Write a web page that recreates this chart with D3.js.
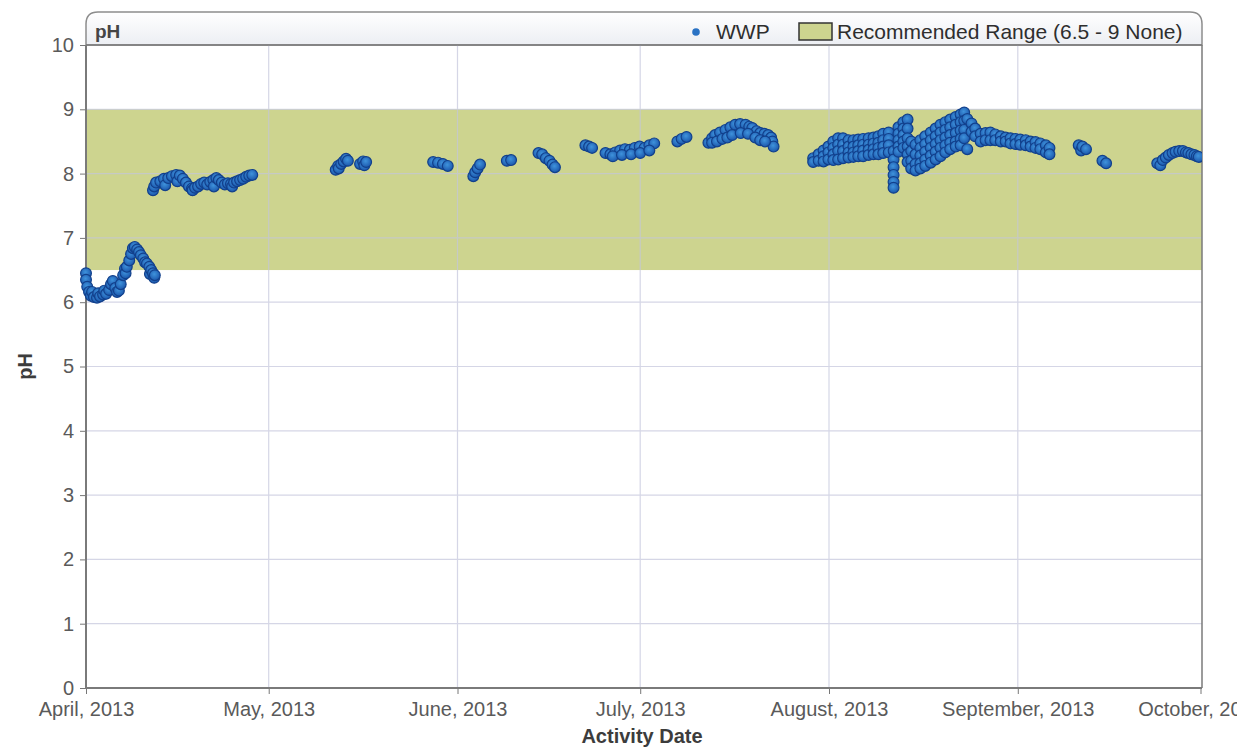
<!DOCTYPE html>
<html>
<head>
<meta charset="utf-8">
<script src="https://cdn.jsdelivr.net/npm/d3@7"></script>
<style>
  body { margin: 0; background: #fff; }
  svg { display: block; font-family: "Liberation Sans", Arial, sans-serif; }
</style>
</head>
<body>
<div id="chart"></div>
<script>
// readings as [days after 1 April 2013, pH], one array per logger deployment
const aprilRunA = [
  [0, 6.45], [0, 6.35], [0.2, 6.24], [0.5, 6.16], [0.8, 6.1], [1.0, 6.16], [1.3, 6.08], [1.8, 6.07],
  [2.0, 6.14], [2.3, 6.09], [2.8, 6.12], [3.0, 6.18], [3.3, 6.13], [3.8, 6.19], [4.1, 6.28], [4.4, 6.33],
  [4.8, 6.22], [5.1, 6.16], [5.4, 6.18], [5.7, 6.28], [6.1, 6.42], [6.4, 6.52], [6.5, 6.45], [6.7, 6.55],
  [7.1, 6.65], [7.4, 6.75], [7.7, 6.84], [8.0, 6.86], [8.4, 6.82], [8.7, 6.78], [9.0, 6.73], [9.4, 6.68],
  [9.7, 6.62], [10.0, 6.6], [10.4, 6.55], [10.5, 6.44], [10.7, 6.5], [11.0, 6.45], [11.2, 6.38], [11.3, 6.42]
]
const aprilRunB = [
  [11.0, 7.74], [11.2, 7.8], [11.5, 7.86], [12.2, 7.88], [12.8, 7.92], [13.0, 7.82], [13.5, 7.93], [14.1, 7.96],
  [14.8, 7.98], [15.0, 7.88], [15.4, 7.97], [15.9, 7.92], [16.4, 7.86], [16.9, 7.8], [17.4, 7.77], [17.5, 7.74],
  [17.9, 7.78], [18.4, 7.8], [18.9, 7.84], [19.4, 7.86], [19.9, 7.83], [20.4, 7.87], [20.9, 7.9], [21.0, 7.8],
  [21.4, 7.93], [21.8, 7.9], [22.3, 7.86], [22.8, 7.83], [23.3, 7.85], [23.8, 7.84], [24.0, 7.8], [24.3, 7.86],
  [24.8, 7.88], [25.3, 7.9], [25.8, 7.92], [26.3, 7.95], [26.8, 7.97], [27.3, 7.98]
]
const mayRun = [
  [41.0, 8.06], [41.4, 8.12], [41.5, 8.08], [41.9, 8.15], [42.3, 8.19], [42.7, 8.23], [43.0, 8.2],
  [45.0, 8.15], [45.5, 8.19], [45.7, 8.13], [46.0, 8.18]
]
const juneRun = [
  [57.0, 8.18], [57.8, 8.17], [58.6, 8.15], [59.4, 8.12],
  [63.6, 7.96], [63.9, 8.02], [64.3, 8.08], [64.7, 8.14],
  [69.1, 8.2], [69.8, 8.21],
  [74.3, 8.32], [74.9, 8.3], [75.5, 8.24], [76.1, 8.2], [76.6, 8.14], [77.0, 8.1],
  [82.0, 8.44], [82.6, 8.42], [83.1, 8.4]
]
const julyRun = [
  [85.3, 8.32], [86.1, 8.3], [86.9, 8.33], [87.7, 8.36], [88.5, 8.38], [89.3, 8.37], [90.1, 8.4], [90.9, 8.42],
  [91.7, 8.4], [92.5, 8.44], [93.3, 8.47], [86.5, 8.27], [88.0, 8.29], [89.5, 8.3], [91.0, 8.32], [92.5, 8.36],
  [97.1, 8.5], [97.8, 8.54], [98.6, 8.57],
  [102.2, 8.48], [102.8, 8.55], [103.3, 8.6], [104.1, 8.64], [105.0, 8.68], [105.8, 8.72], [106.6, 8.76],
  [107.4, 8.77], [108.3, 8.76], [108.9, 8.73], [109.4, 8.71], [110.1, 8.66], [110.7, 8.63], [111.4, 8.62],
  [112.0, 8.6], [112.5, 8.56], [112.7, 8.5], [112.9, 8.42], [102.8, 8.48], [103.6, 8.5], [104.5, 8.54],
  [105.3, 8.56], [106.1, 8.6], [107.5, 8.63], [108.7, 8.62], [109.9, 8.56], [110.7, 8.52], [111.5, 8.5]
]
const augustRun = [
  [119.4, 8.24], [119.4, 8.18], [120.3, 8.3], [120.3, 8.2],
  [121.1, 8.36], [121.1, 8.27], [121.1, 8.19], [121.9, 8.42], [121.9, 8.33], [121.9, 8.22],
  [122.7, 8.5], [122.7, 8.4], [122.7, 8.3], [122.7, 8.21], [123.5, 8.55], [123.5, 8.45], [123.5, 8.35], [123.5, 8.22],
  [124.3, 8.55], [124.3, 8.45], [124.3, 8.35], [124.3, 8.24], [125.2, 8.52], [125.2, 8.42], [125.2, 8.33], [125.2, 8.25],
  [126.0, 8.52], [126.0, 8.42], [126.0, 8.33], [126.0, 8.26], [126.8, 8.53], [126.8, 8.44], [126.8, 8.35], [126.8, 8.27],
  [127.6, 8.54], [127.6, 8.45], [127.6, 8.36], [127.6, 8.27], [128.5, 8.55], [128.5, 8.45], [128.5, 8.37], [128.5, 8.29],
  [129.3, 8.56], [129.3, 8.47], [129.3, 8.38], [129.3, 8.3], [130.1, 8.58], [130.1, 8.48], [130.1, 8.4], [130.1, 8.3],
  [130.9, 8.62], [130.9, 8.52], [130.9, 8.42], [130.9, 8.32], [131.8, 8.64], [131.8, 8.54], [131.8, 8.44], [131.8, 8.33],
  [132.6, 8.35], [132.6, 8.22], [132.6, 8.1], [132.6, 7.98], [132.6, 7.87], [132.6, 7.78],
  [133.4, 8.72], [133.4, 8.62], [133.4, 8.52], [133.4, 8.42], [133.4, 8.34],
  [134.2, 8.8], [134.2, 8.7], [134.2, 8.6], [134.2, 8.5], [134.2, 8.4],
  [134.9, 8.84], [134.9, 8.7], [134.9, 8.55], [134.9, 8.42], [134.9, 8.3], [134.9, 8.18],
  [135.5, 8.5], [135.5, 8.35], [135.5, 8.2], [135.5, 8.08]
]
const septemberRun = [
  [136.2, 8.45], [136.2, 8.3], [136.2, 8.15], [136.2, 8.05],
  [137.0, 8.52], [137.0, 8.4], [137.0, 8.28], [137.0, 8.16], [137.0, 8.08],
  [137.8, 8.58], [137.8, 8.46], [137.8, 8.34], [137.8, 8.22], [137.8, 8.12],
  [138.7, 8.64], [138.7, 8.52], [138.7, 8.4], [138.7, 8.28], [138.7, 8.17],
  [139.5, 8.7], [139.5, 8.58], [139.5, 8.46], [139.5, 8.34], [139.5, 8.22],
  [140.3, 8.76], [140.3, 8.64], [140.3, 8.52], [140.3, 8.4], [140.3, 8.27],
  [141.1, 8.8], [141.1, 8.68], [141.1, 8.56], [141.1, 8.44], [141.1, 8.33],
  [141.9, 8.84], [141.9, 8.72], [141.9, 8.6], [141.9, 8.48], [141.9, 8.38],
  [142.8, 8.88], [142.8, 8.76], [142.8, 8.63], [142.8, 8.5], [142.8, 8.42],
  [143.6, 8.92], [143.6, 8.8], [143.6, 8.67], [143.6, 8.54], [143.6, 8.44],
  [144.2, 8.95], [144.2, 8.82], [144.2, 8.68], [144.2, 8.55],
  [144.7, 8.85], [144.7, 8.38], [145.4, 8.78], [145.4, 8.65],
  [146.0, 8.7], [146.0, 8.58], [146.9, 8.62], [146.9, 8.5], [147.7, 8.63], [147.7, 8.52],
  [148.5, 8.64], [148.5, 8.52], [149.3, 8.61], [149.3, 8.52], [150.2, 8.58], [150.2, 8.5],
  [151.0, 8.56], [151.0, 8.5], [151.8, 8.55], [151.8, 8.47], [152.6, 8.54], [152.6, 8.46],
  [153.4, 8.53], [153.4, 8.45], [154.3, 8.52], [154.3, 8.44], [155.1, 8.5], [155.1, 8.42],
  [155.9, 8.49], [155.9, 8.4], [156.7, 8.47], [156.7, 8.38], [157.6, 8.44], [157.6, 8.33],
  [158.2, 8.4], [158.2, 8.3]
]
const lateSeptemberRun = [
  [163.0, 8.44], [163.4, 8.36], [163.6, 8.42], [164.2, 8.38], [166.9, 8.2], [167.5, 8.16]
]
const octoberRun = [
  [175.9, 8.16], [176.4, 8.13], [176.8, 8.21], [177.3, 8.25], [177.8, 8.29], [178.4, 8.32], [178.9, 8.34],
  [179.5, 8.35], [180.1, 8.35], [180.6, 8.33], [181.0, 8.32], [181.5, 8.3], [182.0, 8.29], [182.4, 8.27], [182.7, 8.26]
]

const monthTicks = ["2013-04-01", "2013-05-01", "2013-06-01", "2013-07-01", "2013-08-01", "2013-09-01", "2013-10-01"]
const phTicks = [0, 1, 2, 3, 4, 5, 6, 7, 8, 9, 10]
const recommendedRange = [6.5, 9]
const seriesName = "WWP"
const rangeLabel = "Recommended Range (6.5 - 9 None)"
const panelTitle = "pH"
const xTitle = "Activity Date"
const yTitle = "pH"

const width = 1237
const height = 747
const plot = { left: 86, right: 1202, top: 45, bottom: 688 }
const headerTop = 12

const start = Date.UTC(2013, 3, 1)
const toDate = day => d3.utcMinute.offset(new Date(start), Math.round(day * 1440))
const readings = [aprilRunA, aprilRunB, mayRun, juneRun, julyRun, augustRun, septemberRun, lateSeptemberRun, octoberRun]
  .flat()
  .map(([day, ph]) => ({ date: toDate(day), ph }))

const parseDay = d3.utcParse("%Y-%m-%d")
const tickDates = monthTicks.map(parseDay)

const x = d3.scaleUtc()
  .domain([tickDates[0], tickDates[tickDates.length - 1]])
  .range([plot.left, plot.right - 1.5])

const y = d3.scaleLinear()
  .domain([0, 10])
  .range([plot.bottom, plot.top])

const bandColor = "#cdd48f"
const textColor = "#5a5a5a"

const svg = d3.select("#chart").append("svg")
  .attr("width", width)
  .attr("height", height)
  .attr("viewBox", [0, 0, width, height].join(" "))

const defs = svg.append("defs")
const headGrad = defs.append("linearGradient").attr("id", "head").attr("x1", 0).attr("x2", 0).attr("y1", 0).attr("y2", 1)
headGrad.append("stop").attr("offset", "0%").attr("stop-color", "#ffffff")
headGrad.append("stop").attr("offset", "100%").attr("stop-color", "#eceef3")
const dotGrad = defs.append("radialGradient").attr("id", "dot").attr("cx", "45%").attr("cy", "40%").attr("r", "60%")
dotGrad.append("stop").attr("offset", "0%").attr("stop-color", "#3f93dc")
dotGrad.append("stop").attr("offset", "100%").attr("stop-color", "#1b57ac")
defs.append("clipPath").attr("id", "plotclip")
  .append("rect")
  .attr("x", plot.left - 6).attr("y", plot.top)
  .attr("width", plot.right - plot.left + 6).attr("height", plot.bottom - plot.top)

// header strip with rounded top corners
const r = 12
svg.append("path")
  .attr("d", `M${plot.left},${plot.top} V${headerTop + r} Q${plot.left},${headerTop} ${plot.left + r},${headerTop}
    H${plot.right - r} Q${plot.right},${headerTop} ${plot.right},${headerTop + r} V${plot.top} Z`)
  .attr("fill", "url(#head)")
  .attr("stroke", "#8d8d8d")
  .attr("stroke-width", 1.5)

svg.append("text")
  .attr("x", 95).attr("y", 38)
  .attr("font-size", 19).attr("font-weight", "bold")
  .attr("fill", "#454545")
  .text(panelTitle)

// recommended range band
svg.append("rect")
  .attr("x", plot.left).attr("width", plot.right - plot.left)
  .attr("y", y(recommendedRange[1]))
  .attr("height", y(recommendedRange[0]) - y(recommendedRange[1]))
  .attr("fill", bandColor)

// grid
const grid = svg.append("g").attr("stroke", "#c4c6dc").attr("stroke-width", 1.2).attr("opacity", 0.7)
grid.selectAll("line.v")
  .data(tickDates.slice(1, -1))
  .join("line")
  .attr("x1", d => x(d)).attr("x2", d => x(d))
  .attr("y1", plot.top).attr("y2", plot.bottom)
grid.selectAll("line.h")
  .data(phTicks.slice(1, -1))
  .join("line")
  .attr("x1", plot.left).attr("x2", plot.right)
  .attr("y1", d => y(d)).attr("y2", d => y(d))

// axes
const yAxis = g => g
  .attr("transform", `translate(${plot.left},0)`)
  .call(d3.axisLeft(y).tickValues(phTicks).tickSize(6).tickPadding(6).tickFormat(d3.format("d")))
  .call(g => g.select(".domain").remove())
  .call(g => g.selectAll(".tick line").attr("stroke", "#777"))
  .call(g => g.selectAll(".tick text").attr("fill", textColor).attr("font-size", 20).attr("font-family", null))

const xAxis = g => g
  .attr("transform", `translate(0,${plot.bottom})`)
  .call(d3.axisBottom(x).tickValues(tickDates).tickSize(6).tickPadding(8).tickFormat(d3.utcFormat("%B, %Y")))
  .call(g => g.select(".domain").remove())
  .call(g => g.selectAll(".tick line").attr("stroke", "#777"))
  .call(g => g.selectAll(".tick text").attr("fill", textColor).attr("font-size", 20).attr("font-family", null))

svg.append("g").call(yAxis)
svg.append("g").call(xAxis)

// frame lines
const frame = svg.append("g").attr("stroke", "#7a7a7a").attr("fill", "none")
frame.append("line").attr("x1", plot.left).attr("x2", plot.left).attr("y1", plot.top).attr("y2", plot.bottom + 1).attr("stroke-width", 2)
frame.append("line").attr("x1", plot.left).attr("x2", plot.right).attr("y1", plot.bottom).attr("y2", plot.bottom).attr("stroke-width", 2)
frame.append("line").attr("x1", plot.right).attr("x2", plot.right).attr("y1", plot.top).attr("y2", plot.bottom).attr("stroke-width", 1.5)
frame.append("line").attr("x1", plot.left).attr("x2", plot.right).attr("y1", plot.top).attr("y2", plot.top).attr("stroke-width", 1.5)

// readings
svg.append("g")
  .attr("clip-path", "url(#plotclip)")
  .selectAll("circle")
  .data(readings)
  .join("circle")
  .attr("cx", d => x(d.date))
  .attr("cy", d => y(d.ph))
  .attr("r", 5.4)
  .attr("fill", "url(#dot)")
  .attr("stroke", "#12408c")
  .attr("stroke-width", 1.2)

// legend
const legend = svg.append("g").attr("font-size", 21).attr("fill", "#2e2e2e")
legend.append("circle").attr("cx", 696).attr("cy", 32).attr("r", 3.8).attr("fill", "#2a72c4")
legend.append("text").attr("x", 716).attr("y", 39).text(seriesName)
legend.append("rect").attr("x", 799).attr("y", 23).attr("width", 33).attr("height", 17)
  .attr("fill", bandColor).attr("stroke", "#333").attr("stroke-width", 1.5)
legend.append("text").attr("x", 837).attr("y", 39).text(rangeLabel)

// axis titles
svg.append("text")
  .attr("transform", `translate(32,${(plot.top + plot.bottom) / 2}) rotate(-90)`)
  .attr("text-anchor", "middle")
  .attr("font-size", 20).attr("font-weight", "bold").attr("fill", "#3c3c3c")
  .text(yTitle)

svg.append("text")
  .attr("x", 642).attr("y", 743)
  .attr("text-anchor", "middle")
  .attr("font-size", 20).attr("font-weight", "bold").attr("fill", "#3c3c3c")
  .text(xTitle)
</script>
</body>
</html>
